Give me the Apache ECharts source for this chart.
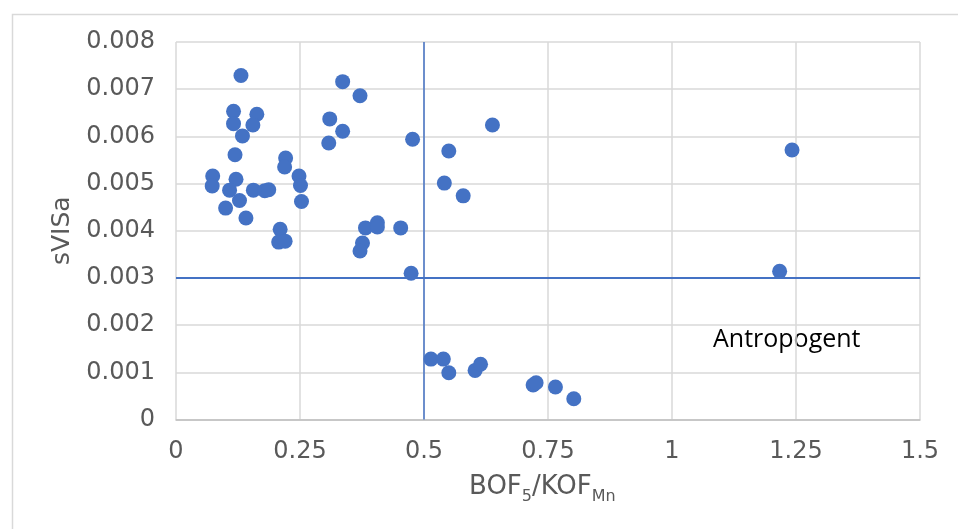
<!DOCTYPE html>
<html>
<head>
<meta charset="utf-8">
<script src="https://cdn.jsdelivr.net/npm/echarts@6/dist/echarts.min.js"></script>
<style>
  html, body { margin: 0; padding: 0; background: #fff; }
  #chart { width: 958px; height: 529px; }
</style>
</head>
<body>
<div id="chart"></div>
<script>
// BOF5/KOFMn ratio (x) against sVISa (y) for each sample
const ratioBOF = [
  0.131, 0.336, 0.371, 0.116, 0.163, 0.116, 0.155, 0.134, 0.310, 0.336,
  0.308, 0.477, 0.119, 0.221, 0.219, 0.074, 0.073, 0.121, 0.108, 0.156,
  0.179, 0.187, 0.248, 0.251, 0.253, 0.128, 0.100, 0.141, 0.210, 0.207,
  0.220, 0.382, 0.406, 0.406, 0.453, 0.376, 0.371, 0.474, 0.638, 0.550,
  0.541, 0.579, 0.514, 0.539, 0.550, 0.603, 0.614, 0.720, 0.726, 0.765,
  0.802, 1.242, 1.217
];
const sVISa = [
  0.00729, 0.00716, 0.00686, 0.00653, 0.00647, 0.00627, 0.00624, 0.00601, 0.00637, 0.00611,
  0.00586, 0.00594, 0.00561, 0.00554, 0.00535, 0.00516, 0.00495, 0.00509, 0.00486, 0.00486,
  0.00485, 0.00487, 0.00516, 0.00496, 0.00462, 0.00464, 0.00448, 0.00427, 0.00403, 0.00376,
  0.00378, 0.00406, 0.00417, 0.00408, 0.00406, 0.00374, 0.00357, 0.00310, 0.00624, 0.00569,
  0.00501, 0.00474, 0.00128, 0.00128, 0.00099, 0.00104, 0.00117, 0.00073, 0.00078, 0.00069,
  0.00044, 0.00571, 0.00314
];

// Threshold lines
const thresholdX = 0.5;
const thresholdY = 0.003;

// Tick labels
const xTickLabels = ['0', '0.25', '0.5', '0.75', '1', '1.25', '1.5'];
const yTickLabels = ['0', '0.001', '0.002', '0.003', '0.004', '0.005', '0.006', '0.007', '0.008'];

const xMin = 0, xMax = 1.5, xStep = 0.25;
const yMin = 0, yMax = 0.008, yStep = 0.001;

const points = ratioBOF.map((x, i) => [x, sVISa[i]]);

const BLUE = '#4472C4';
const GRID = '#D9D9D9';
const TEXT = '#595959';
const FONT = 'DejaVu Sans';

const chart = echarts.init(document.getElementById('chart'), null, { renderer: 'canvas' });

chart.setOption({
  animation: false,
  backgroundColor: '#fff',
  grid: { left: 176, right: 38, top: 42, bottom: 109.5, containLabel: false },
  xAxis: {
    type: 'value',
    min: xMin, max: xMax, interval: xStep,
    axisLine: { show: true, lineStyle: { color: '#BFBFBF', width: 1.5 } },
    axisTick: { show: false },
    splitLine: { show: true, lineStyle: { color: GRID, width: 1.5 } },
    axisLabel: {
      color: TEXT, fontFamily: FONT, fontSize: 24, margin: 20,
      formatter: (v) => xTickLabels[Math.round((v - xMin) / xStep)]
    }
  },
  yAxis: {
    type: 'value',
    min: yMin, max: yMax, interval: yStep,
    name: 'sVISa',
    nameLocation: 'middle',
    nameGap: 50,
    nameRotate: 90,
    nameTextStyle: { color: TEXT, fontFamily: FONT, fontSize: 25 },
    axisLine: { show: false },
    axisTick: { show: false },
    splitLine: { show: true, lineStyle: { color: GRID, width: 1.5 } },
    axisLabel: {
      color: TEXT, fontFamily: FONT, fontSize: 24, margin: 21,
      formatter: (v) => yTickLabels[Math.round((v - yMin) / yStep)]
    }
  },
  graphic: [
    {
      type: 'rect', left: 10, top: 12, silent: true, z: -1,
      shape: { width: 980, height: 560 },
      style: { fill: 'none', stroke: '#D9D9D9', lineWidth: 1.5 }
    },
    {
      type: 'text', left: 713, top: 327,
      style: { text: 'Antropogent', fill: '#000', font: '25px "Open Sans"' }
    },
    {
      type: 'text', left: 469, top: 474,
      style: {
        text: '{a|BOF}{s|5}{a|/KOF}{s|Mn}',
        rich: {
          a: { fill: TEXT, fontFamily: FONT, fontSize: 26, lineHeight: 28, verticalAlign: 'top' },
          s: { fill: TEXT, fontFamily: FONT, fontSize: 16, lineHeight: 16, padding: [15, 0, 0, 0], verticalAlign: 'top' }
        }
      }
    }
  ],
  series: [
    {
      type: 'line',
      data: [[thresholdX, yMin], [thresholdX, yMax]],
      symbol: 'none',
      lineStyle: { color: BLUE, width: 1.5 },
      silent: true, z: 1
    },
    {
      type: 'line',
      data: [[xMin, thresholdY], [xMax, thresholdY]],
      symbol: 'none',
      lineStyle: { color: BLUE, width: 2 },
      silent: true, z: 1
    },
    {
      type: 'scatter',
      data: points,
      symbol: 'circle',
      symbolSize: 15,
      itemStyle: { color: BLUE, opacity: 1 },
      z: 3
    }
  ]
});
</script>
</body>
</html>
